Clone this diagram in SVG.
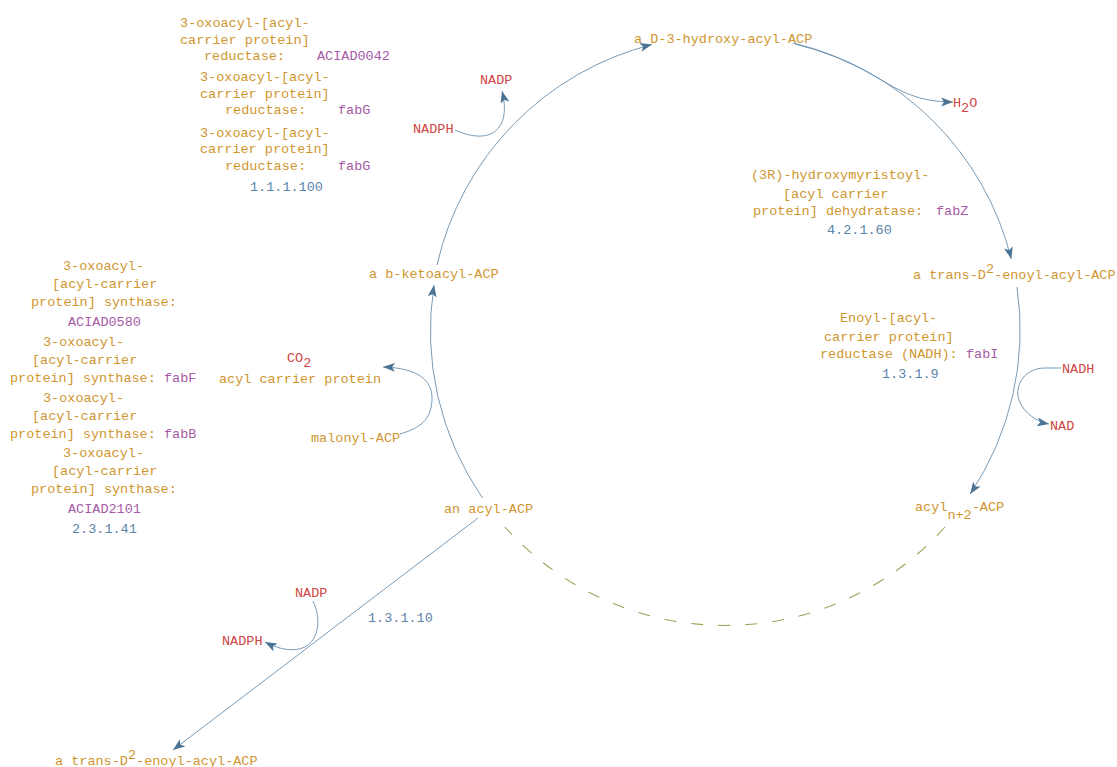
<svg xmlns="http://www.w3.org/2000/svg" width="1117" height="767" viewBox="0 0 1117 767">
<style>
text{font-family:"Liberation Mono","DejaVu Sans Mono",monospace;font-size:13.5px}
.o{fill:#CF962F}
.p{fill:#A65BA6}
.b{fill:#5A84AA}
.r{fill:#D04545}
.ln{fill:none;stroke:#6A8FAE;stroke-width:0.9}
.dash{fill:none;stroke:#8FAA58;stroke-width:1.1;stroke-dasharray:12 15}
</style>
<defs>
<marker id="arr" viewBox="0 0 12 9" refX="12" refY="4.5" markerWidth="12" markerHeight="9" orient="auto" markerUnits="userSpaceOnUse">
<path d="M0,0 L12,4.5 L0,9 L3,4.5 z" fill="#4B7394"/>
</marker>
</defs>
<rect width="1117" height="767" fill="#ffffff"/>

<g id="connectors">
<path class="ln" d="M482.5,498 A295,295 0 0 1 434,285" marker-end="url(#arr)"/>
<path class="ln" d="M437,265 A295,295 0 0 1 652,44.5" marker-end="url(#arr)"/>
<path class="ln" d="M793,43 A295,295 0 0 1 1011.3,259" marker-end="url(#arr)"/>
<path class="ln" d="M1017,287 A295,295 0 0 1 970.2,494" marker-end="url(#arr)"/>
<path class="dash" d="M945,527 A295,295 0 0 1 505,527"/>
<path class="ln" d="M795,44 A295,295 0 0 1 878,78 C900,91 918,102 953,102" marker-end="url(#arr)"/>
<path class="ln" d="M455,130 C490,146 512,130 502,91" marker-end="url(#arr)"/>
<path class="ln" d="M1061,368 L1045,368 C1025,368 1014,385 1019,400 C1024,414 1038,422 1049,424" marker-end="url(#arr)"/>
<path class="ln" d="M400,434 C420,428 431,420 432,400 C433,380 418,368 383,367" marker-end="url(#arr)"/>
<path class="ln" d="M478,518 L173,750" marker-end="url(#arr)"/>
<path class="ln" d="M313,601 C322,620 318,640 305,647 C294,652 280,650 265,642" marker-end="url(#arr)"/>
</g>

<g id="enz-1.1.1.100">
<text class="o" x="180" y="27">3-oxoacyl-[acyl-</text>
<text class="o" x="180" y="44">carrier protein]</text>
<text class="o" x="204" y="60">reductase:</text>
<text class="p" x="317" y="60">ACIAD0042</text>
<text class="o" x="200" y="81">3-oxoacyl-[acyl-</text>
<text class="o" x="200" y="98">carrier protein]</text>
<text class="o" x="225" y="114">reductase:</text>
<text class="p" x="338" y="114">fabG</text>
<text class="o" x="200" y="137">3-oxoacyl-[acyl-</text>
<text class="o" x="200" y="153">carrier protein]</text>
<text class="o" x="225" y="170">reductase:</text>
<text class="p" x="338" y="170">fabG</text>
<text class="b" x="250" y="191">1.1.1.100</text>
</g>

<g id="enz-2.3.1.41">
<text class="o" x="63" y="270">3-oxoacyl-</text>
<text class="o" x="52" y="288">[acyl-carrier</text>
<text class="o" x="31" y="306">protein] synthase:</text>
<text class="p" x="68" y="326">ACIAD0580</text>
<text class="o" x="43" y="346">3-oxoacyl-</text>
<text class="o" x="32" y="364">[acyl-carrier</text>
<text class="o" x="10" y="382">protein] synthase:</text>
<text class="p" x="164" y="382">fabF</text>
<text class="o" x="43" y="402">3-oxoacyl-</text>
<text class="o" x="32" y="420">[acyl-carrier</text>
<text class="o" x="10" y="438">protein] synthase:</text>
<text class="p" x="164" y="438">fabB</text>
<text class="o" x="63" y="457">3-oxoacyl-</text>
<text class="o" x="52" y="475">[acyl-carrier</text>
<text class="o" x="31" y="493">protein] synthase:</text>
<text class="p" x="68" y="513">ACIAD2101</text>
<text class="b" x="72" y="533">2.3.1.41</text>
</g>

<g id="enz-4.2.1.60">
<text class="o" x="751" y="179">(3R)-hydroxymyristoyl-</text>
<text class="o" x="783" y="198">[acyl carrier</text>
<text class="o" x="753" y="215">protein] dehydratase:</text>
<text class="p" x="936" y="215">fabZ</text>
<text class="b" x="827" y="234">4.2.1.60</text>
</g>

<g id="enz-1.3.1.9">
<text class="o" x="840" y="322">Enoyl-[acyl-</text>
<text class="o" x="824" y="341">carrier protein]</text>
<text class="o" x="820" y="358">reductase (NADH):</text>
<text class="p" x="966" y="358">fabI</text>
<text class="b" x="882" y="378">1.3.1.9</text>
</g>

<g id="enz-1.3.1.10">
<text class="b" x="368" y="622">1.3.1.10</text>
</g>

<g id="hydroxyacyl-ACP"><text class="o" x="634" y="43">a D-3-hydroxy-acyl-ACP</text></g>
<g id="ketoacyl-ACP"><text class="o" x="369" y="278">a b-ketoacyl-ACP</text></g>
<g id="enoyl-ACP-right"><text class="o" x="913" y="279">a trans-D<tspan dy="-6">2</tspan><tspan dy="6">-enoyl-acyl-ACP</tspan></text></g>
<g id="acyl-n2-ACP"><text class="o" x="915" y="511">acyl<tspan dy="8">n+2</tspan><tspan dy="-8">-ACP</tspan></text></g>
<g id="acyl-ACP"><text class="o" x="444" y="513">an acyl-ACP</text></g>
<g id="malonyl-ACP"><text class="o" x="311" y="442">malonyl-ACP</text></g>
<g id="CO2"><text class="r" x="287" y="362">CO<tspan dy="5">2</tspan></text></g>
<g id="ACP"><text class="o" x="219" y="383">acyl carrier protein</text></g>
<g id="H2O"><text class="r" x="953" y="107">H<tspan dy="5">2</tspan><tspan dy="-5">O</tspan></text></g>
<g id="NADP-top"><text class="r" x="480" y="84">NADP</text></g>
<g id="NADPH-top"><text class="r" x="413" y="133">NADPH</text></g>
<g id="NADH"><text class="r" x="1062" y="373">NADH</text></g>
<g id="NAD"><text class="r" x="1050" y="430">NAD</text></g>
<g id="NADP-bottom"><text class="r" x="295" y="597">NADP</text></g>
<g id="NADPH-bottom"><text class="r" x="222" y="645">NADPH</text></g>
<g id="enoyl-ACP-bottom"><text class="o" x="55" y="765">a trans-D<tspan dy="-6">2</tspan><tspan dy="6">-enoyl-acyl-ACP</tspan></text></g>
</svg>
